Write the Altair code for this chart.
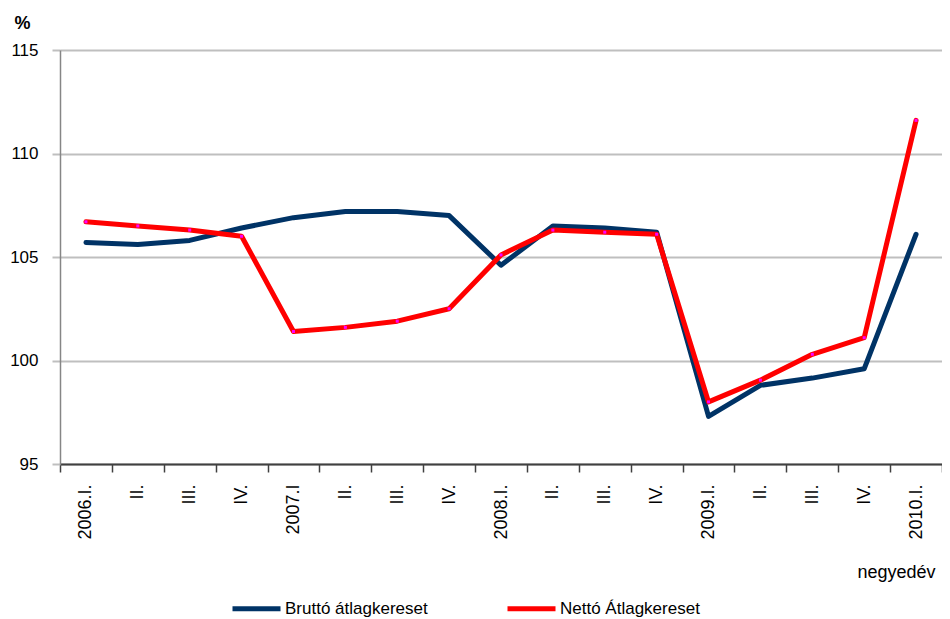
import altair as alt
import pandas as pd

quarter_labels = ["2006.I.", "II.", "III.", "IV.", "2007.I", "II.", "III.", "IV.",
                  "2008.I.", "II.", "III.", "IV.", "2009.I.", "II.", "III.", "IV.", "2010.I."]
brutto = [105.7, 105.6, 105.8, 106.4, 106.9, 107.2, 107.2, 107.0,
          104.6, 106.5, 106.4, 106.2, 97.3, 98.8, 99.15, 99.6, 106.1]
netto = [106.7, 106.5, 106.3, 106.0, 101.4, 101.6, 101.9, 102.5,
         105.1, 106.3, 106.2, 106.1, 98.0, 99.05, 100.3, 101.1, 111.6]
series_names = ["Bruttó átlagkereset", "Nettó Átlagkereset"]
series_colors = ["#003366", "#FF0000"]
y_ticks = [95, 100, 105, 110, 115]

rows = []
for i, v in enumerate(brutto):
    rows.append({"idx": i, "value": v, "series": series_names[0]})
for i, v in enumerate(netto):
    rows.append({"idx": i, "value": v, "series": series_names[1]})
df = pd.DataFrame(rows)

label_expr = "[" + ",".join("'" + s + "'" for s in quarter_labels) + "][datum.value]"
FONT = "Liberation Sans"

x_enc = alt.X(
    "idx:O",
    bandPosition=0.5,
    scale=alt.Scale(type="band", paddingInner=0, paddingOuter=0),
    axis=alt.Axis(
        title="negyedév",
        labelExpr=label_expr,
        labelAngle=-90,
        labelAlign="right",
        labelBaseline="middle",
        labelFont=FONT,
        labelFontSize=18,
        labelColor="#000000",
        labelPadding=12,
        tickBand="extent",
        tickSize=8,
        tickColor="#404040",
        tickWidth=1.5,
        domainColor="#404040",
        domainWidth=2,
        grid=False,
        titleFont=FONT,
        titleFontSize=18,
        titleFontWeight="normal",
        titleColor="#000000",
        titleAnchor="end",
        titleAlign="right",
        titleBaseline="alphabetic",
        titleX=875,
        titleY=113,
    ),
)

y_enc = alt.Y(
    "value:Q",
    scale=alt.Scale(domain=[95, 115], nice=False, zero=False),
    axis=alt.Axis(
        title="%",
        values=y_ticks,
        titleAngle=0,
        titleAlign="left",
        titleBaseline="alphabetic",
        titleX=-46,
        titleY=-22,
        titleFont=FONT,
        titleFontSize=18,
        titleFontWeight="bold",
        titleColor="#000000",
        labelFont=FONT,
        labelFontSize=17,
        labelColor="#000000",
        labelPadding=14,
        tickSize=8,
        tickColor="#BFBFBF",
        tickWidth=2,
        domainColor="#868686",
        domainWidth=1.5,
        grid=True,
        gridColor="#BFBFBF",
        gridWidth=2,
    ),
)

lines = alt.Chart(df).mark_line(strokeWidth=5, strokeCap="round", strokeJoin="round").encode(
    x=x_enc,
    y=y_enc,
    color=alt.Color(
        "series:N",
        scale=alt.Scale(domain=series_names, range=series_colors),
        sort=series_names,
        legend=alt.Legend(
            title=None,
            orient="none",
            direction="horizontal",
            legendX=170,
            legendY=532,
            symbolType="stroke",
            symbolStrokeWidth=5,
            symbolSize=2304,
            labelFont=FONT,
            labelFontSize=17,
            labelColor="#000000",
            labelOffset=2,
            columnPadding=69,
            padding=0,
        ),
    ),
    order=alt.Order("idx:O"),
)

dots = alt.Chart(df).transform_filter(
    alt.datum.series == series_names[1]
).mark_point(shape="square", filled=True, size=9, opacity=1).encode(
    x=alt.X("idx:O", bandPosition=0.5),
    y=alt.Y("value:Q"),
    color=alt.value("#FF00FF"),
)

chart = alt.layer(lines, dots).properties(
    width=882,
    height=414,
    autosize=alt.AutoSizeParams(type="none"),
    padding={"left": 52, "top": 42, "right": 0, "bottom": 160},
).configure_view(stroke=None).configure(background="white")

chart.save("out.html", embed_options={"renderer": "svg", "actions": False})
